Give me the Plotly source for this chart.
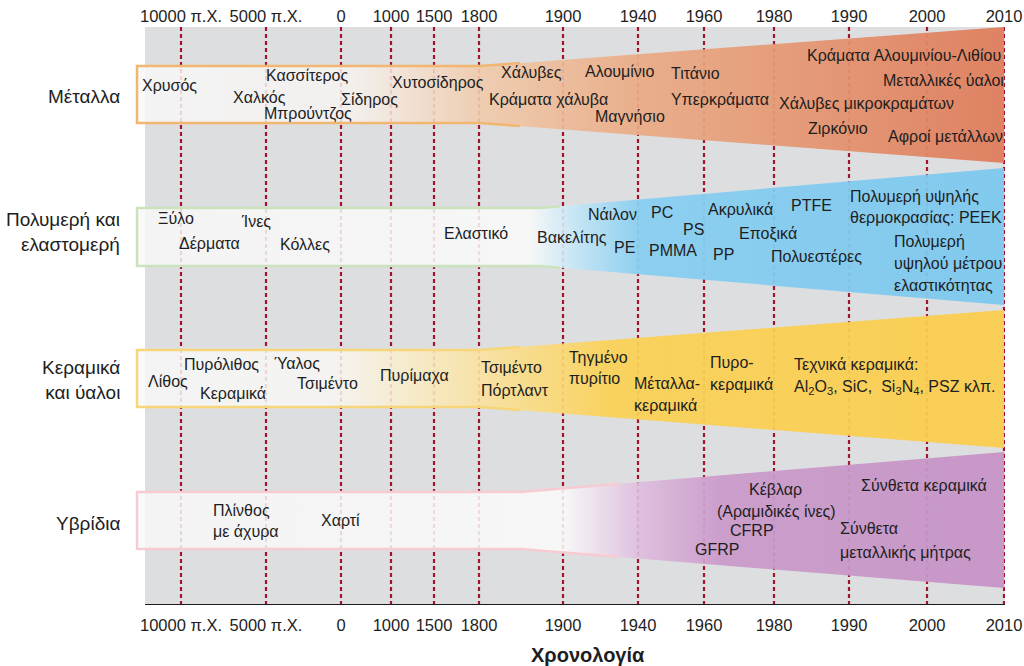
import plotly.graph_objects as go

# ---------------- data ----------------
tick_labels = ["10000 π.Χ.", "5000 π.Χ.", "0", "1000", "1500", "1800", "1900",
               "1940", "1960", "1980", "1990", "2000", "2010"]
tick_pos = [181, 266, 341, 391, 434, 479, 563, 638, 704, 774, 849, 927, 1004]

categories = ["Μέταλλα", "Πολυμερή και<br>ελαστομερή", "Κεραμικά<br>και ύαλοι", "Υβρίδια"]
cat_y = [96, 232, 380, 523]

band_left = 137
band_right = 1004
band_spread_x = [480, 540, 480, 520]
band_border_end = [520, 560, 520, 620]
band_left_top = [66, 208, 350, 492]
band_left_bottom = [123, 266, 407, 549]
band_right_top = [27, 168, 310, 452]
band_right_bottom = [163, 305, 448, 588]
band_border = ["rgb(241,182,112)", "rgb(203,227,188)", "rgb(246,214,120)", "rgb(246,204,210)"]

W = "rgba(248,248,248,0.84)"
band_gradients = [
    [(137, W), (350, "rgba(246,243,240,0.85)"), (480, "rgba(240,203,172,0.9)"),
     (640, "rgba(234,170,132,0.93)"), (1004, "rgba(222,125,92,0.95)")],
    [(137, W), (530, "rgba(250,250,250,0.87)"), (580, "rgba(190,228,246,0.9)"),
     (640, "rgba(136,206,240,0.95)"), (1004, "rgba(124,200,238,0.95)")],
    [(137, W), (330, "rgba(248,247,244,0.85)"), (480, "rgba(250,226,160,0.9)"),
     (610, "rgba(250,209,86,0.94)"), (1004, "rgba(250,205,78,0.95)")],
    [(137, W), (565, "rgba(250,250,250,0.87)"), (640, "rgba(222,188,222,0.9)"),
     (720, "rgba(202,154,202,0.94)"), (1004, "rgba(198,148,198,0.95)")],
]

item_text = [
    # metals
    "Χρυσός", "Χαλκός", "Κασσίτερος", "Σίδηρος", "Μπρούντζος", "Χυτοσίδηρος",
    "Χάλυβες", "Κράματα χάλυβα", "Αλουμίνιο", "Μαγνήσιο", "Τιτάνιο", "Υπερκράματα",
    "Κράματα Αλουμινίου-Λιθίου", "Μεταλλικές ύαλοι", "Χάλυβες μικροκραμάτων",
    "Ζιρκόνιο", "Αφροί μετάλλων",
    # polymers
    "Ξύλο", "Δέρματα", "Ίνες", "Κόλλες", "Ελαστικό", "Βακελίτης", "Νάιλον", "PE",
    "PC", "PS", "PMMA", "Ακρυλικά", "Εποξικά", "PP", "PTFE", "Πολυεστέρες",
    "Πολυμερή υψηλής", "θερμοκρασίας: PEEK", "Πολυμερή", "υψηλού μέτρου", "ελαστικότητας",
    # ceramics
    "Λίθος", "Πυρόλιθος", "Κεραμικά", "Ύαλος", "Τσιμέντο", "Πυρίμαχα", "Τσιμέντο",
    "Πόρτλαντ", "Τηγμένο", "πυρίτιο", "Μέταλλα-", "κεραμικά", "Πυρο-", "κεραμικά",
    "Τεχνικά κεραμικά:", "Al<sub>2</sub>O<sub>3</sub>, SiC,  Si<sub>3</sub>N<sub>4</sub>, PSZ κλπ.",
    # hybrids
    "Πλίνθος", "με άχυρα", "Χαρτί", "Κέβλαρ", "(Αραμιδικές ίνες)", "CFRP", "GFRP",
    "Σύνθετα κεραμικά", "Σύνθετα", "μεταλλικής μήτρας",
]
item_x = [
    140, 231, 264, 339, 262, 390, 499, 487, 583, 593, 669, 669, 805, 881, 777, 806, 886,
    156, 177, 239, 278, 442, 535, 586, 612, 649, 681, 647, 706, 737, 711, 789, 769,
    848, 848, 892, 892, 892,
    146, 182, 198, 272, 295, 378, 479, 479, 567, 567, 632, 632, 708, 708, 792, 792,
    211, 211, 319, 747, 715, 728, 693, 859, 838, 838,
]
item_y = [
    85, 97, 75, 99, 114, 82, 72, 99, 71, 116, 73, 99, 55, 80, 103, 128, 136,
    218, 243, 221, 244, 233, 237, 214, 247, 212, 229, 250, 209, 234, 254, 205, 256,
    196, 217, 241, 263, 285,
    381, 364, 393, 363, 383, 375, 367, 390, 357, 378, 383, 405, 362, 384, 364, 387,
    510, 531, 520, 489, 511, 530, 549, 485, 528, 552,
]

axis_title = "Χρονολογία"

# ---------------- figure ----------------
FONT = "Liberation Sans, Arial, sans-serif"
TXT = "#1e1e1e"
Y_TOP, Y_BOT = 27, 605  # plot area in y units


def paper_y(v):
    return (Y_BOT - v) / (Y_BOT - Y_TOP)


fig = go.Figure()

# dashed year lines (below the semi-transparent bands)
lx, ly = [], []
for p in tick_pos:
    lx += [p, p, None]
    ly += [Y_TOP, Y_BOT, None]
fig.add_trace(go.Scatter(x=lx, y=ly, mode="lines", hoverinfo="skip", showlegend=False,
                         line=dict(color="rgb(162,20,44)", width=2.2, dash="4px,3px")))

# bands
for i in range(len(categories)):
    xs = [band_left, band_spread_x[i], band_right, band_right, band_spread_x[i], band_left, band_left]
    ys = [band_left_top[i], band_left_top[i], band_right_top[i], band_right_bottom[i],
          band_left_bottom[i], band_left_bottom[i], band_left_top[i]]
    span = band_right - band_left
    cs = [[(gx - band_left) / span, gc] for gx, gc in band_gradients[i]]
    fig.add_trace(go.Scatter(x=xs, y=ys, mode="lines", fill="toself",
                             line=dict(width=0, color="rgba(0,0,0,0)"),
                             fillgradient=dict(type="horizontal", colorscale=cs,
                                               start=band_left, stop=band_right),
                             hoverinfo="skip", showlegend=False))

    def edge(y_left, y_right, x, i=i):
        if x <= band_spread_x[i]:
            return y_left
        return y_left + (y_right - y_left) * (x - band_spread_x[i]) / (band_right - band_spread_x[i])
    xe = band_border_end[i]
    bx = [xe, band_spread_x[i], band_left, band_left, band_spread_x[i], xe]
    by = [edge(band_left_top[i], band_right_top[i], xe), band_left_top[i], band_left_top[i],
          band_left_bottom[i], band_left_bottom[i],
          edge(band_left_bottom[i], band_right_bottom[i], xe)]
    fig.add_trace(go.Scatter(x=bx, y=by, mode="lines", hoverinfo="skip", showlegend=False,
                             line=dict(color=band_border[i], width=2.5)))

# invisible trace for top axis
fig.add_trace(go.Scatter(x=tick_pos, y=[Y_TOP] * len(tick_pos), xaxis="x2", mode="markers",
                         marker=dict(opacity=0), hoverinfo="skip", showlegend=False))

annotations = []
for t, x, y in zip(item_text, item_x, item_y):
    annotations.append(dict(x=x, y=y, xref="x", yref="y", text=t, showarrow=False,
                            xanchor="left", yanchor="middle",
                            font=dict(family=FONT, size=16, color=TXT)))
for c, y in zip(categories, cat_y):
    annotations.append(dict(x=122, y=y, xref="x", yref="y", text=c, showarrow=False,
                            xanchor="right", yanchor="middle", align="right",
                            font=dict(family=FONT, size=19, color=TXT)))
annotations.append(dict(x=588, y=paper_y(655), xref="x", yref="paper",
                        text="<b>" + axis_title + "</b>",
                        showarrow=False, xanchor="center", yanchor="middle",
                        font=dict(family=FONT, size=20, color=TXT)))

axis_common = dict(range=[120, 1005], tickvals=tick_pos, ticktext=tick_labels,
                   showgrid=False, zeroline=False, ticks="", showline=False,
                   automargin=False,
                   tickfont=dict(family=FONT, size=16.5, color=TXT))

fig.update_layout(
    width=1024, height=666,
    margin=dict(l=120, r=19, t=27, b=61, pad=0, autoexpand=False),
    paper_bgcolor="white", plot_bgcolor="white",
    xaxis=dict(**axis_common, side="bottom", ticklabelstandoff=8),
    xaxis2=dict(**axis_common, side="top", overlaying="x", anchor="y", ticklabelstandoff=1),
    yaxis=dict(range=[Y_BOT, Y_TOP], showticklabels=False, showgrid=False, zeroline=False,
               ticks="", showline=False, automargin=False),
    shapes=[
        dict(type="rect", xref="x", yref="y", x0=145, x1=1005, y0=Y_TOP, y1=Y_BOT,
             fillcolor="rgb(221,222,224)", line=dict(width=0), layer="below"),
        dict(type="line", xref="x", yref="y", x0=145, x1=1005, y0=Y_BOT, y1=Y_BOT,
             line=dict(color="#1a1a1a", width=2), layer="above"),
    ],
    annotations=annotations,
    showlegend=False,
    hovermode=False,
)

fig.write_html("out.html", config={"displayModeBar": False},
               post_script="document.body.style.margin='0';document.body.style.overflow='hidden';")
